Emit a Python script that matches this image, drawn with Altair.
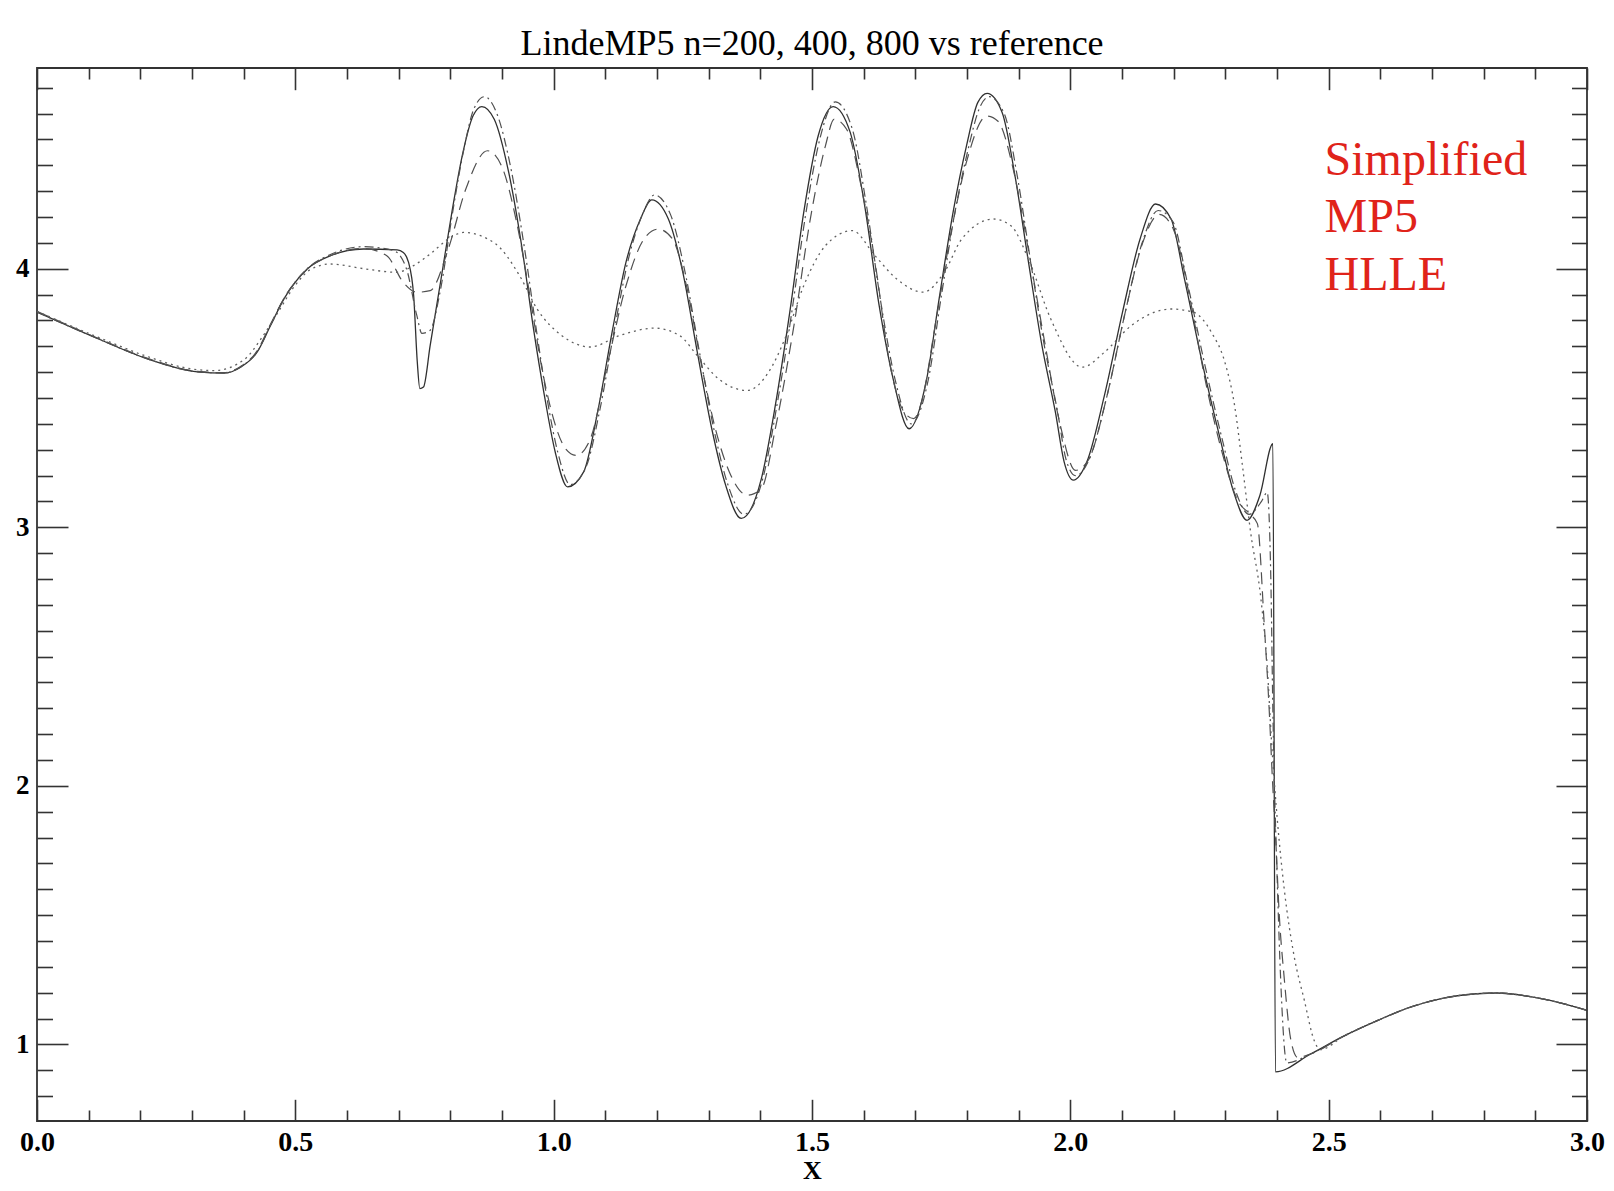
import altair as alt
import pandas as pd

TITLE = "LindeMP5 n=200, 400, 800 vs reference"
NOTE = ["Simplified", "MP5", "HLLE"]

# reference (solid)
ref_x = [0.000, 0.118, 0.214, 0.311, 0.362, 0.394, 0.426, 0.452, 0.478, 0.523, 0.568, 0.632, 0.697, 0.709, 0.719, 0.729, 0.736, 0.741, 0.748, 0.761,
         0.782, 0.803, 0.823, 0.844, 0.861, 0.885, 0.913, 0.940, 0.961, 0.982, 1.003, 1.027, 1.058, 1.085, 1.113, 1.140, 1.168, 1.190, 1.222, 1.250,
         1.278, 1.306, 1.333, 1.363, 1.402, 1.429, 1.457, 1.484, 1.512, 1.541, 1.574, 1.602, 1.630, 1.657, 1.688, 1.722, 1.747, 1.773, 1.799, 1.821,
         1.839, 1.868, 1.894, 1.919, 1.945, 1.971, 1.988, 2.006, 2.032, 2.066, 2.101, 2.135, 2.165, 2.195, 2.221, 2.255, 2.290, 2.316, 2.342, 2.367,
         2.392, 2.397, 2.465, 2.529, 2.594, 2.658, 2.722, 2.787, 2.826, 2.884, 2.948, 3.000]
ref_y = [3.832, 3.729, 3.651, 3.601, 3.596, 3.619, 3.677, 3.780, 3.883, 3.999, 4.050, 4.076, 4.073, 4.063, 4.025, 3.896, 3.640, 3.536, 3.542, 3.703,
         3.960, 4.218, 4.436, 4.591, 4.627, 4.578, 4.372, 4.063, 3.767, 3.510, 3.291, 3.156, 3.214, 3.445, 3.754, 4.025, 4.192, 4.266, 4.192, 3.986,
         3.677, 3.381, 3.162, 3.034, 3.188, 3.471, 3.832, 4.218, 4.514, 4.627, 4.527, 4.243, 3.857, 3.574, 3.381, 3.574, 3.896, 4.218, 4.475, 4.643,
         4.678, 4.604, 4.346, 4.025, 3.703, 3.446, 3.253, 3.182, 3.253, 3.510, 3.832, 4.115, 4.250, 4.192, 3.960, 3.639, 3.342, 3.137, 3.027, 3.124,
         3.323, 0.894, 0.963, 1.032, 1.092, 1.144, 1.179, 1.196, 1.199, 1.187, 1.161, 1.132]

# n=800 (dash-dot)
n800_x = [0.000, 0.118, 0.214, 0.311, 0.362, 0.394, 0.426, 0.452, 0.478, 0.523, 0.568, 0.632, 0.690, 0.715, 0.735, 0.745, 0.760, 0.782, 0.803, 0.825,
          0.846, 0.866, 0.890, 0.918, 0.945, 0.966, 0.987, 1.008, 1.032, 1.062, 1.090, 1.118, 1.145, 1.172, 1.195, 1.226, 1.254, 1.282, 1.310, 1.338,
          1.368, 1.405, 1.432, 1.460, 1.487, 1.515, 1.545, 1.578, 1.605, 1.634, 1.661, 1.692, 1.725, 1.750, 1.776, 1.802, 1.824, 1.843, 1.872, 1.898,
          1.923, 1.949, 1.975, 1.992, 2.010, 2.036, 2.070, 2.105, 2.139, 2.170, 2.199, 2.225, 2.259, 2.294, 2.320, 2.346, 2.370, 2.381, 2.388, 2.392,
          2.401, 2.407, 2.419, 2.465, 2.529, 2.594, 2.658, 2.722, 2.787, 2.826, 2.884, 2.948, 3.000]
n800_y = [3.832, 3.729, 3.651, 3.601, 3.597, 3.620, 3.679, 3.782, 3.884, 4.000, 4.055, 4.085, 4.070, 4.000, 3.820, 3.750, 3.760, 3.930, 4.200, 4.450,
          4.620, 4.665, 4.600, 4.380, 4.060, 3.770, 3.500, 3.290, 3.165, 3.230, 3.460, 3.770, 4.040, 4.210, 4.285, 4.210, 3.990, 3.680, 3.380, 3.160,
          3.050, 3.190, 3.470, 3.820, 4.200, 4.500, 4.645, 4.540, 4.250, 3.860, 3.570, 3.400, 3.570, 3.890, 4.210, 4.460, 4.620, 4.665, 4.600, 4.350,
          4.030, 3.710, 3.450, 3.260, 3.200, 3.260, 3.500, 3.820, 4.100, 4.225, 4.180, 3.960, 3.640, 3.340, 3.140, 3.050, 3.100, 3.135, 2.807, 2.290,
          1.600, 1.256, 0.929, 0.963, 1.032, 1.092, 1.144, 1.179, 1.196, 1.199, 1.187, 1.161, 1.132]

# n=400 (dashed)
n400_x = [0.000, 0.118, 0.214, 0.311, 0.362, 0.394, 0.426, 0.452, 0.478, 0.523, 0.568, 0.632, 0.677, 0.709, 0.735, 0.761, 0.796, 0.830, 0.872, 0.899,
          0.927, 0.954, 0.975, 0.996, 1.023, 1.044, 1.071, 1.105, 1.140, 1.175, 1.202, 1.230, 1.257, 1.285, 1.313, 1.340, 1.375, 1.402, 1.429, 1.464,
          1.499, 1.526, 1.543, 1.567, 1.595, 1.622, 1.650, 1.678, 1.697, 1.712, 1.740, 1.770, 1.800, 1.838, 1.860, 1.890, 1.920, 1.950, 1.980, 2.010,
          2.035, 2.070, 2.105, 2.140, 2.172, 2.200, 2.230, 2.260, 2.295, 2.325, 2.348, 2.362, 2.375, 2.385, 2.391, 2.398, 2.404, 2.414, 2.427, 2.440,
          2.465, 2.529, 2.594, 2.658, 2.722, 2.787, 2.826, 2.884, 2.948, 3.000]
n400_y = [3.835, 3.731, 3.653, 3.603, 3.598, 3.622, 3.682, 3.785, 3.885, 3.998, 4.050, 4.078, 4.050, 3.947, 3.909, 3.915, 4.076, 4.308, 4.456, 4.398,
          4.192, 3.896, 3.639, 3.446, 3.304, 3.278, 3.342, 3.639, 3.934, 4.115, 4.153, 4.115, 3.934, 3.639, 3.381, 3.214, 3.124, 3.149, 3.381, 3.767,
          4.218, 4.475, 4.578, 4.539, 4.320, 4.025, 3.639, 3.446, 3.420, 3.484, 3.800, 4.150, 4.420, 4.590, 4.570, 4.380, 4.060, 3.720, 3.400, 3.220,
          3.260, 3.500, 3.820, 4.100, 4.210, 4.150, 3.900, 3.580, 3.280, 3.100, 3.050, 3.014, 2.635, 2.290, 2.032, 1.773, 1.515, 1.256, 1.015, 0.950,
          0.963, 1.032, 1.092, 1.144, 1.179, 1.196, 1.199, 1.187, 1.161, 1.132]

# n=200 (dotted)
n200_x = [0.000, 0.118, 0.214, 0.300, 0.343, 0.402, 0.434, 0.466, 0.499, 0.531, 0.568, 0.632, 0.696, 0.729, 0.761, 0.800, 0.825, 0.885, 0.934, 0.968,
          1.016, 1.071, 1.127, 1.195, 1.244, 1.278, 1.319, 1.375, 1.416, 1.450, 1.484, 1.526, 1.578, 1.622, 1.664, 1.715, 1.756, 1.790, 1.851, 1.885,
          1.919, 1.962, 2.023, 2.066, 2.118, 2.195, 2.238, 2.273, 2.299, 2.318, 2.333, 2.349, 2.369, 2.381, 2.390, 2.401, 2.414, 2.433, 2.453, 2.472,
          2.484, 2.529, 2.594, 2.658, 2.722, 2.787, 2.826, 2.884, 2.948, 3.000]
n200_y = [3.835, 3.735, 3.660, 3.612, 3.606, 3.650, 3.730, 3.830, 3.934, 3.999, 4.018, 4.000, 3.986, 4.012, 4.057, 4.120, 4.140, 4.100, 3.973, 3.844,
          3.741, 3.697, 3.741, 3.770, 3.741, 3.664, 3.574, 3.529, 3.600, 3.741, 3.934, 4.089, 4.147, 4.050, 3.960, 3.909, 3.986, 4.115, 4.192, 4.166,
          4.037, 3.806, 3.619, 3.677, 3.780, 3.844, 3.832, 3.754, 3.639, 3.470, 3.240, 2.980, 2.721, 2.463, 2.153, 1.860, 1.601, 1.343, 1.170, 1.015,
          0.980, 1.032, 1.092, 1.144, 1.179, 1.196, 1.199, 1.187, 1.161, 1.132]

x_major = [0.0, 0.5, 1.0, 1.5, 2.0, 2.5, 3.0]
x_minor = [0.1, 0.2, 0.3, 0.4, 0.6, 0.7, 0.8, 0.9, 1.1, 1.2, 1.3, 1.4, 1.6, 1.7, 1.8, 1.9, 2.1, 2.2, 2.3, 2.4, 2.6, 2.7, 2.8, 2.9]
y_major = [1, 2, 3, 4]
y_minor = [0.8, 0.9, 1.1, 1.2, 1.3, 1.4, 1.5, 1.6, 1.7, 1.8, 1.9, 2.1, 2.2, 2.3, 2.4, 2.5, 2.6, 2.7, 2.8, 2.9,
           3.1, 3.2, 3.3, 3.4, 3.5, 3.6, 3.7, 3.8, 3.9, 4.1, 4.2, 4.3, 4.4, 4.5, 4.6, 4.7]

note_x = [2.492]
note_y = [4.364]

X_DOMAIN = [0.0, 3.0]
Y_DOMAIN = [0.704, 4.776]

W, H = 1550, 1053
FONT = "Liberation Serif"
TICK = "#333333"

for a, b in [(ref_x, ref_y), (n800_x, n800_y), (n400_x, n400_y), (n200_x, n200_y)]:
    assert len(a) == len(b)


def xs():
    return alt.Scale(domain=X_DOMAIN, nice=False, zero=False)


def ys():
    return alt.Scale(domain=Y_DOMAIN, nice=False, zero=False)


def tick_axis(orient, offset, values, size):
    return alt.Axis(orient=orient, offset=offset, values=values, tickSize=size, tickColor=TICK,
                    tickWidth=1.6, labels=False, domain=False, grid=False, title=None)


x_label_axis = alt.Axis(orient="bottom", values=x_major, format=".1f", ticks=False, tickSize=0,
                        domain=False, grid=False, labelFont=FONT, labelFontSize=28, labelFontWeight="bold",
                        labelColor="black", labelPadding=7, labelFlush=False, labelOverlap=False,
                        title="X", titleFont=FONT, titleFontSize=26, titleFontWeight="bold",
                        titleColor="black", titleBaseline="alphabetic", titleY=57)
y_label_axis = alt.Axis(orient="left", values=y_major, format="d", ticks=False, tickSize=0,
                        domain=False, grid=False, labelFont=FONT, labelFontSize=27, labelFontWeight="bold",
                        labelColor="black", labelPadding=8, labelFlush=False, labelOverlap=False, title=None)


def line(xv, yv, color, width, xaxis, yaxis, dash=None):
    df = pd.DataFrame({"x": xv, "y": yv})
    kw = dict(color=color, strokeWidth=width, interpolate="monotone", clip=True)
    if dash is not None:
        kw["strokeDash"] = dash
    return alt.Chart(df).mark_line(**kw).encode(
        x=alt.X("x:Q", scale=xs(), axis=xaxis),
        y=alt.Y("y:Q", scale=ys(), axis=yaxis),
    )


ref_layer = line(ref_x, ref_y, "#303030", 1.3, x_label_axis, y_label_axis)
n800_layer = line(n800_x, n800_y, "#505050", 1.2,
                  tick_axis("top", -H, x_major, 21.7), tick_axis("right", -W, y_major, 31), [9, 4, 2, 4])
n400_layer = line(n400_x, n400_y, "#505050", 1.2,
                  tick_axis("top", -H, x_minor, 11), tick_axis("right", -W, y_minor, 15.5), [12, 7])
n200_layer = line(n200_x, n200_y, "#606060", 1.3,
                  tick_axis("bottom", -H, x_major, 21.7), tick_axis("left", -W, y_major, 31), [2, 4])

note_df = pd.DataFrame({"x": note_x, "y": note_y, "t": ["\n".join(NOTE)]})
note_layer = alt.Chart(note_df).mark_text(
    font=FONT, fontSize=48, color="#e0231a", align="left", baseline="alphabetic",
    lineBreak="\n", lineHeight=57.5
).encode(
    x=alt.X("x:Q", scale=xs(), axis=tick_axis("bottom", -H, x_minor, 11)),
    y=alt.Y("y:Q", scale=ys(), axis=tick_axis("left", -W, y_minor, 15.5)),
    text="t:N",
)

chart = alt.layer(ref_layer, n800_layer, n400_layer, n200_layer, note_layer).resolve_axis(
    x="independent", y="independent"
).properties(
    width=W, height=H,
    title=alt.TitleParams(text=TITLE, font=FONT, fontSize=36, fontWeight="normal", color="black",
                          anchor="middle", baseline="alphabetic", offset=14, dy=38),
    padding={"left": 29, "top": 60, "right": 19, "bottom": 62},
    autosize=alt.AutoSizeParams(type="none"),
    background="white",
).configure_view(stroke="#333333", strokeWidth=1.8)

chart.save("out.html", embed_options={"renderer": "svg", "actions": False})
